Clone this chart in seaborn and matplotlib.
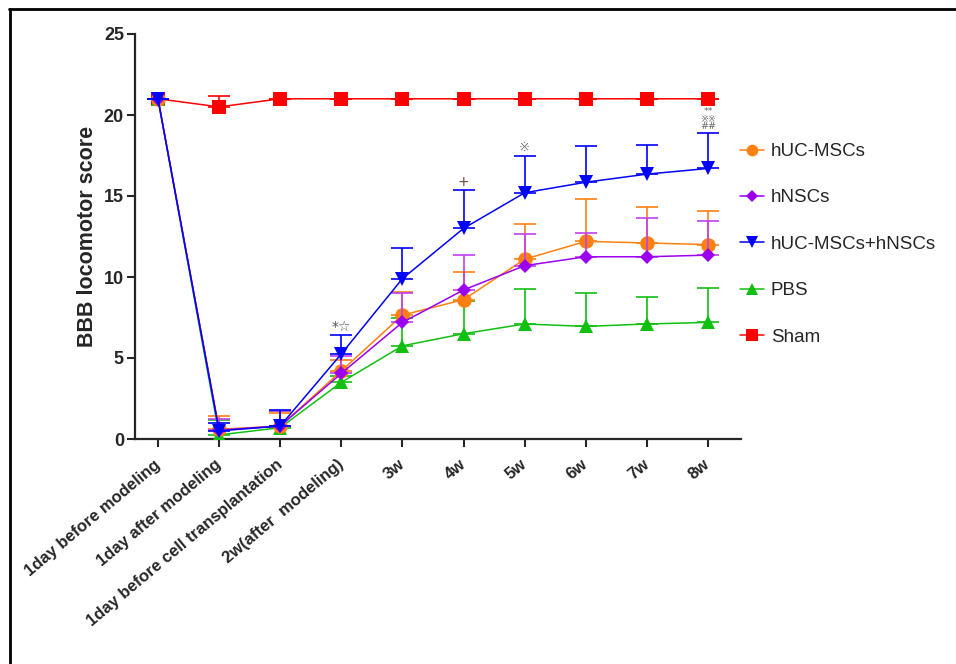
import numpy as np
import pandas as pd
import matplotlib
matplotlib.use("Agg")
import matplotlib.pyplot as plt
import seaborn as sns
from matplotlib.lines import Line2D

sns.set_style("ticks")
plt.rcParams['font.family'] = ['Liberation Sans', 'DejaVu Sans', 'Noto Sans CJK SC']

times = ["1day before modeling", "1day after modeling", "1day before cell transplantation",
         "2w(after  modeling)", "3w", "4w", "5w", "6w", "7w", "8w"]

huc_mean = [21.0, 0.6, 0.8, 4.2, 7.65, 8.6, 11.1, 12.2, 12.1, 12.0]
huc_upper = [21.0, 1.4, 1.6, 4.9, 9.1, 10.3, 13.3, 14.8, 14.3, 14.1]

hnsc_mean = [21.0, 0.55, 0.8, 4.05, 7.2, 9.2, 10.7, 11.25, 11.25, 11.35]
hnsc_upper = [21.0, 1.25, 1.7, 5.1, 9.0, 11.35, 12.65, 12.7, 13.65, 13.45]

combo_mean = [21.0, 0.5, 0.8, 5.25, 9.9, 13.0, 15.2, 15.85, 16.35, 16.7]
combo_upper = [21.0, 1.0, 1.8, 6.4, 11.8, 15.4, 17.5, 18.1, 18.15, 18.9]

pbs_mean = [21.0, 0.25, 0.7, 3.5, 5.75, 6.5, 7.1, 6.95, 7.1, 7.2]
pbs_upper = [21.0, 1.15, 1.7, 3.9, 7.45, 8.5, 9.25, 9.0, 8.75, 9.3]

sham_mean = [21.0, 20.5, 21.0, 21.0, 21.0, 21.0, 21.0, 21.0, 21.0, 21.0]
sham_upper = [21.0, 21.2, 21.0, 21.0, 21.0, 21.0, 21.0, 21.0, 21.0, 21.0]

groups = ["hUC-MSCs", "hNSCs", "hUC-MSCs+hNSCs", "PBS", "Sham"]
series = {
    "hUC-MSCs": (huc_mean, huc_upper, "#FF8010", "o", 10.5, "#FF8010"),
    "hNSCs": (hnsc_mean, hnsc_upper, "#9B00EE", "D", 7.5, "#C040F0"),
    "hUC-MSCs+hNSCs": (combo_mean, combo_upper, "#0000FF", "v", 10.5, "#0000FF"),
    "PBS": (pbs_mean, pbs_upper, "#10C010", "^", 10.5, "#10C010"),
    "Sham": (sham_mean, sham_upper, "#FF0000", "s", 10, "#FF0000"),
}
draw_order = ["Sham", "PBS", "hUC-MSCs", "hNSCs", "hUC-MSCs+hNSCs"]

fig = plt.figure(figsize=(9.56, 6.64), dpi=100)
ax = fig.add_axes([135/956, 1-439/664, (741-135)/956, (439-34)/664])

xpos = np.arange(len(times))
for i, g in enumerate(draw_order):
    mean, upper, color, marker, ms, ecolor = series[g]
    df = pd.DataFrame({"x": xpos, "y": mean})
    err = np.array(upper) - np.array(mean)
    ax.errorbar(xpos, mean, yerr=[np.zeros_like(err), err], fmt='none',
                ecolor=ecolor, elinewidth=1.2, capsize=8, capthick=1.2, zorder=2 + i)
    sns.lineplot(data=df, x="x", y="y", ax=ax, color=color, marker=marker,
                 markersize=ms, markeredgewidth=0, linewidth=1.1, label=g, zorder=3 + i)

# significance annotations
ann_fam = ['DejaVu Sans', 'Noto Sans CJK SC']
ax.text(3, 6.9, "*☆", ha='center', va='center', fontsize=10, color='#555555', family=ann_fam)
ax.text(5, 15.85, "+", ha='center', va='center', fontsize=10, color='#6b4a3a', family=ann_fam)
ax.text(6, 18.0, "※", ha='center', va='center', fontsize=9.5, color='#777777', family=ann_fam)
ax.text(9, 19.0, "**\n※※\n##", ha='center', va='bottom', fontsize=6.8, color='#666666',
        family=ann_fam, linespacing=0.8, multialignment='center')

ax.set_xlim(-0.376, 9.54)
ax.set_ylim(0, 25)
ax.set_yticks([0, 5, 10, 15, 20, 25])
ax.set_xticks(xpos)
ax.set_xticklabels(times, rotation=40, ha='right', va='center', rotation_mode='anchor',
                   fontsize=12, fontweight='bold')
for lab in ax.get_yticklabels():
    lab.set_fontweight('bold')
    lab.set_fontsize(13)
ax.tick_params(axis='x', length=6, width=1.5, pad=11)
ax.tick_params(axis='y', length=6, width=1.5, pad=2)
for s in ['left', 'bottom']:
    ax.spines[s].set_linewidth(1.6)
sns.despine(ax=ax)
ax.set_xlabel("")
ax.set_ylabel("BBB locomotor score", fontsize=15.5, fontweight='bold', labelpad=4)

handles, labels = ax.get_legend_handles_labels()
hmap = dict(zip(labels, handles))
ax.legend([hmap[g] for g in groups], groups, loc='upper left',
          bbox_to_anchor=(740/956, 1-143/664), bbox_transform=fig.transFigure,
          frameon=False, fontsize=13.5, labelspacing=1.56, handlelength=1.3,
          handletextpad=0.35, markerscale=0.8, borderpad=0, borderaxespad=0)

# outer frame (top and left)
fig.add_artist(Line2D([9/956, 1.0], [1-9/664, 1-9/664], transform=fig.transFigure, color='black', linewidth=2))
fig.add_artist(Line2D([10/956, 10/956], [0, 1-9/664], transform=fig.transFigure, color='black', linewidth=2))

fig.savefig("out.png", dpi=100)
